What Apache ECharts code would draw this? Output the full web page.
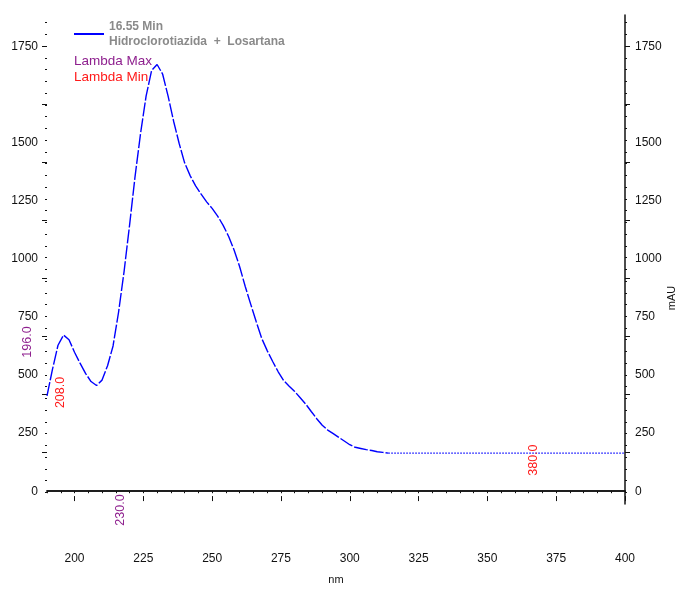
<!DOCTYPE html>
<html>
<head>
<meta charset="utf-8">
<script src="https://cdn.jsdelivr.net/npm/echarts@6/dist/echarts.min.js"></script>
<style>
  html, body { margin: 0; padding: 0; background: #fff; }
  #chart { width: 679px; height: 590px; }
</style>
</head>
<body>
<div id="chart"></div>
<script>
// UV spectrum at 16.55 min (mAU vs nm)
const wavelengths = [190, 192, 194, 196, 198, 200, 202, 204, 206, 208, 210, 212, 214, 216, 218,
  220, 222, 224, 226, 228, 230, 232, 234, 236, 238, 240, 242, 244, 246, 248, 250, 252, 254,
  256, 258, 260, 262, 264, 266, 268, 270, 272, 274, 276, 278, 280, 282, 284, 286, 288, 290,
  292, 294, 296, 298, 300, 302, 304, 306, 308, 310, 312, 314];
const absorbance = [410, 525, 628, 672, 652, 598, 551, 507, 472, 455, 478, 540, 625, 770, 945,
  1145, 1355, 1540, 1700, 1810, 1836, 1795, 1700, 1592, 1497, 1413, 1358, 1314, 1278, 1245, 1217, 1184, 1144,
  1096, 1037, 966, 882, 805, 730, 658, 605, 558, 514, 476, 452, 429, 402, 375, 343, 312, 284,
  263, 248, 232, 216, 200, 189, 184, 179, 175, 170, 167, 164];
// flat tail of the spectrum
const tailWavelengths = [314, 400];
const tailAbsorbance = [164, 164];

// lambda markers
const lambdaMax = [196, 230];
const lambdaMin = [208, 380];

// axis ticks and labels
const xLabelValues = [200, 225, 250, 275, 300, 325, 350, 375, 400];
const yLabelValues = [0, 250, 500, 750, 1000, 1250, 1500, 1912];
const yLabelTexts = ['0', '250', '500', '750', '1000', '1250', '1500', '1750'];
const yMajorTicks = [166, 416, 666, 916, 1166, 1416, 1666, 1916];

const Y_MIN = -55, Y_MAX = 2049, X_MIN = 190, X_MAX = 400;

const xMinorTicks = [];
for (let v = X_MIN; v <= X_MAX; v += 5) xMinorTicks.push(v);
const yMinorTicks = [];
for (let v = 16; v <= 2040; v += 50) yMinorTicks.push(v);

const FONT = "'Liberation Sans', Arial, sans-serif";
const PURPLE = '#8e1f8e';
const RED = '#ff1a1a';
const BLUE = '#0000ff';
const INK = '#111';

const mainData = wavelengths.map((w, i) => [w, absorbance[i]]);
const tailData = tailWavelengths.map((w, i) => [w, tailAbsorbance[i]]);
const allData = mainData.concat(tailData.slice(1));

function valueAt(nm) {
  for (let i = 0; i < allData.length - 1; i++) {
    const [x0, y0] = allData[i], [x1, y1] = allData[i + 1];
    if (nm >= x0 && nm <= x1) return y0 + (y1 - y0) * (nm - x0) / (x1 - x0);
  }
  return allData[allData.length - 1][1];
}

// label offsets are given in the rotated text frame
function marker(nm, color, atBottom) {
  return {
    coord: [nm, atBottom ? Y_MIN : valueAt(nm)],
    label: {
      show: true,
      formatter: nm.toFixed(1),
      rotate: 90,
      color: color,
      fontSize: 12.5,
      fontFamily: FONT,
      offset: atBottom ? [-6, -37] : [-7, -36]
    }
  };
}

const peakTop = wavelengths[absorbance.indexOf(Math.max(...absorbance))];
const markers = [
  ...lambdaMax.map(nm => marker(nm, PURPLE, nm === peakTop)),
  ...lambdaMin.map(nm => marker(nm, RED, false))
];

const yLabelFormatter = v => {
  const i = yLabelValues.indexOf(v);
  return i >= 0 ? yLabelTexts[i] : '';
};

const tickStyle = { color: INK, width: 1 };
const axisText = { color: INK, fontSize: 12, fontFamily: FONT };
const gridBox = { left: 47, right: 54, top: 15, bottom: 81, containLabel: false };

const chart = echarts.init(document.getElementById('chart'), null, { renderer: 'canvas' });

chart.setOption({
  animation: false,
  backgroundColor: '#fff',
  grid: [Object.assign({}, gridBox), Object.assign({}, gridBox)],
  legend: {
    show: true,
    left: 74,
    top: 19,
    padding: 0,
    icon: 'rect',
    itemWidth: 30,
    itemHeight: 2,
    data: ['spectrum'],
    formatter: () => '16.55 Min\nHidroclorotiazida  +  Losartana',
    textStyle: { color: '#8a8a8a', fontSize: 12, fontWeight: 'bold', fontFamily: FONT, lineHeight: 15 }
  },
  xAxis: [
    {
      gridIndex: 0, type: 'value', min: X_MIN, max: X_MAX, position: 'bottom',
      name: 'nm', nameLocation: 'middle', nameGap: 70,
      nameTextStyle: { color: INK, fontSize: 11, fontFamily: FONT },
      axisLine: { show: true, lineStyle: { color: INK, width: 1.5 } },
      axisTick: { show: true, length: 2, customValues: xMinorTicks, lineStyle: tickStyle },
      axisLabel: { show: true, customValues: xLabelValues, margin: 49, ...axisText },
      splitLine: { show: false }
    },
    {
      gridIndex: 0, type: 'value', min: X_MIN, max: X_MAX, position: 'top',
      axisLine: { show: true, lineStyle: { color: INK, width: 1.5 } },
      axisTick: { show: false }, axisLabel: { show: false }, splitLine: { show: false }
    },
    {
      gridIndex: 1, type: 'value', min: X_MIN, max: X_MAX, position: 'bottom',
      axisLine: { show: false },
      axisTick: { show: true, length: 5, customValues: xLabelValues, lineStyle: tickStyle },
      axisLabel: { show: false },
      splitLine: { show: false }
    }
  ],
  yAxis: [
    {
      gridIndex: 0, type: 'value', min: Y_MIN, max: Y_MAX, position: 'left',
      axisLine: { show: false },
      axisTick: { show: true, length: 5, customValues: yMajorTicks, lineStyle: tickStyle },
      axisLabel: { show: true, customValues: yLabelValues, formatter: yLabelFormatter, margin: 9, ...axisText },
      splitLine: { show: false }
    },
    {
      gridIndex: 0, type: 'value', min: Y_MIN, max: Y_MAX, position: 'right',
      axisLine: { show: true, lineStyle: { color: INK, width: 1.5 } },
      axisTick: { show: true, length: 5, customValues: yMajorTicks, lineStyle: tickStyle },
      axisLabel: { show: true, customValues: yLabelValues, formatter: yLabelFormatter, margin: 10, ...axisText },
      splitLine: { show: false }
    },
    {
      gridIndex: 1, type: 'value', min: Y_MIN, max: Y_MAX, position: 'left',
      axisLine: { show: false },
      axisTick: { show: true, length: 2, customValues: yMinorTicks, lineStyle: tickStyle },
      axisLabel: { show: false }, splitLine: { show: false }
    },
    {
      gridIndex: 1, type: 'value', min: Y_MIN, max: Y_MAX, position: 'right',
      axisLine: { show: false },
      axisTick: { show: true, length: 2, customValues: yMinorTicks, lineStyle: tickStyle },
      axisLabel: { show: false }, splitLine: { show: false }
    }
  ],
  series: [
    {
      name: 'spectrum',
      type: 'line',
      data: mainData,
      xAxisIndex: 0, yAxisIndex: 0,
      showSymbol: false,
      smooth: false,
      itemStyle: { color: BLUE },
      lineStyle: { color: BLUE, width: 1.4, type: [14, 2] },
      markPoint: {
        symbol: 'circle',
        symbolSize: 0,
        data: markers
      }
    },
    {
      name: 'tail',
      type: 'line',
      data: tailData,
      xAxisIndex: 0, yAxisIndex: 0,
      showSymbol: false,
      itemStyle: { color: BLUE },
      lineStyle: { color: BLUE, width: 1.3, type: [1.5, 1.5] }
    }
  ],
  graphic: [
    { type: 'text', left: 74, top: 54, style: { text: 'Lambda Max', fill: PURPLE, fontSize: 13.5, fontFamily: FONT } },
    { type: 'text', left: 74, top: 70, style: { text: 'Lambda Min', fill: RED, fontSize: 13.5, fontFamily: FONT } },
    {
      type: 'text', x: 672, y: 298, rotation: Math.PI / 2,
      style: { text: 'mAU', fill: INK, fontSize: 11, fontFamily: FONT, align: 'center', verticalAlign: 'middle' }
    }
  ]
});
</script>
</body>
</html>
